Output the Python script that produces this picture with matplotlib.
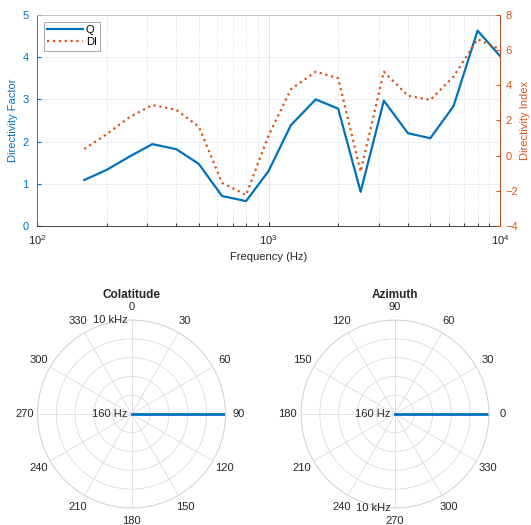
import numpy as np
import matplotlib
matplotlib.use('Agg')
import matplotlib.pyplot as plt

plt.rcParams['font.family'] = ['Liberation Sans', 'DejaVu Sans']
plt.rcParams['font.size'] = 8
plt.rcParams['mathtext.fontset'] = 'custom'
plt.rcParams['mathtext.rm'] = 'Liberation Sans'

# 1/3 octave bands
freqs = [160, 200, 250, 315, 400, 500, 630, 800, 1000, 1250, 1600, 2000,
         2500, 3150, 4000, 5000, 6300, 8000, 10000]
q_vals = [1.09, 1.33, 1.64, 1.94, 1.82, 1.47, 0.71, 0.59, 1.30, 2.39, 3.00,
          2.78, 0.81, 2.97, 2.20, 2.08, 2.84, 4.63, 4.03]
di_vals = [0.38, 1.22, 2.18, 2.88, 2.60, 1.65, -1.54, -2.24, 1.14, 3.78, 4.78,
           4.40, -0.91, 4.78, 3.41, 3.17, 4.50, 6.62, 6.05]

# polar plots: radial axis = frequency, direction of the source
freq_range = [160, 10000]
colat_deg = [90, 90]
azim_deg = [0, 0]
angle_labels = [str(a) for a in range(0, 360, 30)]

blue = '#0072BD'
orange = '#D95319'
dark = '#262626'

fig = plt.figure(figsize=(5.31, 5.25), dpi=100)

# ---- top: Q / DI vs frequency
ax = fig.add_axes([37/531, 1-226/525, 463/531, 211/525])
ax.plot(freqs, q_vals, color=blue, lw=1.6, label='Q')
ax.set_xscale('log')
ax.set_xlim(100, 10000)
ax.set_ylim(0, 5)
ax.set_yticks([0, 1, 2, 3, 4, 5])
ax.set_ylabel('Directivity Factor', color=blue, labelpad=3)
ax.set_xlabel('Frequency (Hz)', color=dark)
ax.tick_params(axis='y', colors=blue, direction='in', length=3, pad=6)
ax.tick_params(axis='x', which='both', colors=dark, direction='in', top=False)
ax.tick_params(axis='x', which='major', length=3, pad=5)
ax.tick_params(axis='x', which='minor', length=2)
ax.grid(True, axis='x', which='major', color=dark, alpha=0.15, lw=0.6)
ax.grid(True, axis='x', which='minor', color=dark, alpha=0.2, lw=0.6, ls=':')
ax.grid(True, axis='y', color=blue, alpha=0.12, lw=0.6)
ax.spines['left'].set_color(blue)
ax.spines['bottom'].set_color(dark)
ax.spines['top'].set_color('#bfbfbf')
for s in ax.spines.values():
    s.set_linewidth(0.6)

ax2 = ax.twinx()
ax2.plot(freqs, di_vals, color=orange, lw=1.6, ls=':', label='DI')
ax2.set_ylim(-4, 8)
ax2.set_yticks([-4, -2, 0, 2, 4, 6, 8])
ax2.set_ylabel('Directivity Index', color=orange, labelpad=1)
ax2.tick_params(axis='y', colors=orange, direction='in', length=3, pad=4)
ax2.spines['right'].set_color(orange)
ax2.spines['left'].set_visible(False)
ax2.spines['top'].set_visible(False)
ax2.spines['bottom'].set_visible(False)
ax2.spines['right'].set_linewidth(0.6)

h1, l1 = ax.get_legend_handles_labels()
h2, l2 = ax2.get_legend_handles_labels()
leg = ax2.legend(h1 + h2, l1 + l2, loc='upper left', fancybox=False,
                 edgecolor='#808080', handlelength=3.2, borderpad=0.3,
                 labelspacing=0.2, handletextpad=0.3, borderaxespad=0.6)
leg.get_frame().set_linewidth(0.6)


def polar_panel(rect, title, theta_deg, zero_loc, direction, hi_label_theta):
    pa = fig.add_axes(rect, projection='polar')
    pa.set_theta_zero_location(zero_loc)
    pa.set_theta_direction(direction)
    pa.set_rscale('log')
    pa.set_rlim(freq_range[0], freq_range[1])
    pa.plot(np.deg2rad(theta_deg), freq_range, color=blue, lw=2)
    pa.set_rticks(np.geomspace(freq_range[0], freq_range[1], 6))
    pa.set_yticklabels([])
    pa.yaxis.set_minor_locator(matplotlib.ticker.NullLocator())
    pa.set_thetagrids(np.arange(0, 360, 30), angle_labels, color=dark)
    pa.tick_params(axis='x', pad=-1)
    pa.grid(True, color='#dcdcdc', lw=0.6)
    pa.spines['polar'].set_color('#cfcfcf')
    pa.spines['polar'].set_linewidth(0.6)
    pa.set_title(title, fontweight='bold', fontsize=8.5, color=dark, pad=3)
    pa.annotate('160 Hz', xy=(0.5, 0.5), xycoords='axes fraction',
                xytext=(-3, 0), textcoords='offset points',
                ha='right', va='center', color=dark)
    pa.annotate('10 kHz', xy=(np.deg2rad(hi_label_theta), freq_range[1]),
                xytext=(-3, 0), textcoords='offset points',
                ha='right', va='center', color=dark)
    return pa


polar_panel([37.5/531, 1-508/525, 188/531, 188/525], 'Colatitude',
            colat_deg, 'N', -1, 0)
polar_panel([301/531, 1-508/525, 188/531, 188/525], 'Azimuth',
            azim_deg, 'E', 1, 270)

fig.savefig('out.png', dpi=100)
